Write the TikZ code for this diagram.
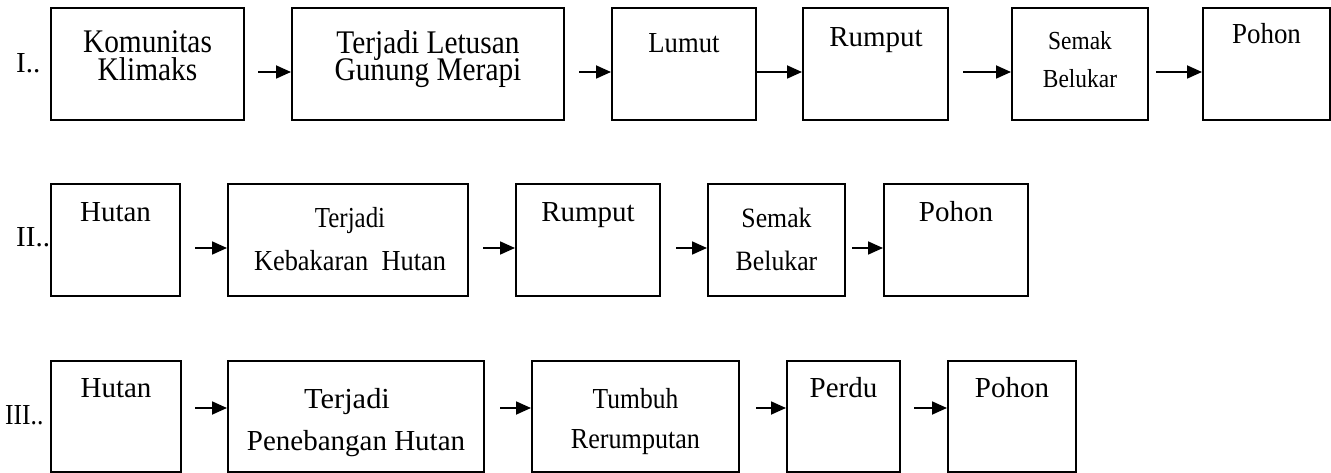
\documentclass[tikz,border=0pt]{standalone}
\usepackage{fontspec}
\setmainfont{Liberation Serif}
\usetikzlibrary{arrows.meta}
\newcommand{\sx}[2]{\scalebox{#1}[1]{#2}}
\newcommand{\tightls}{\lineskiplimit=-100pt\relax}
\tikzset{
  box/.style={draw,line width=2pt,inner sep=0pt,minimum height=112pt},
  txt/.style={anchor=base,inner sep=0pt,font=\fontsize{29}{34}\selectfont},
  twoA/.style={anchor=south,inner sep=0pt,align=center,
    font={\fontsize{33}{27.5}\selectfont\tightls}},
  twoB/.style={anchor=south,inner sep=0pt,align=center,
    font={\fontsize{33}{26.5}\selectfont\tightls}},
  small/.style={anchor=base,inner sep=0pt,font=\fontsize{26}{30}\selectfont},
  mid/.style={anchor=base,inner sep=0pt,font=\fontsize{28}{32}\selectfont},
  topline/.style={text depth=0pt},
  rowlab/.style={anchor=base west,inner sep=0pt,font=\fontsize{29}{34}\selectfont},
  arr/.style={line width=1.8pt,-{Triangle[length=15pt,width=13pt]}}
}
\begin{document}
\begin{tikzpicture}[x=1pt,y=-1pt]
\useasboundingbox (0,0) rectangle (1331,473);

% ---------- Row I ----------
\node[rowlab] (L1) at (16,73) {I..};
\node[box,minimum width=193pt] (b11) at (147.5,64) {};
\node[box,minimum width=272pt] (b12) at (428,64) {};
\node[box,minimum width=144pt] (b13) at (684,64) {};
\node[box,minimum width=145pt] (b14) at (875.5,64) {};
\node[box,minimum width=136pt] (b15) at (1080,64) {};
\node[box,minimum width=127pt] (b16) at (1266.5,64) {};

\node[twoA] (t11) at (147.5,81) {\sx{0.89}{Komunitas}\\\sx{0.89}{Klimaks}};
\node[twoB] (t12) at (428,87.7) {\sx{0.89}{Terjadi Letusan}\\\sx{0.89}{Gunung Merapi}};
\node[txt] (t13) at (684,53) {\sx{0.92}{Lumut}};
\node[txt] (t14) at (876,46.5) {Rumput};
\node[small,topline] (t15a) at (1080,50) {\sx{0.9}{Semak}};
\node[small] (t15b) at (1080,88) {\sx{0.9}{Belukar}};
\node[txt] (t16) at (1266.5,44) {\sx{0.93}{Pohon}};

\coordinate (a11) at (258,72);
\coordinate (a12) at (579,72);
\coordinate (a13) at (756,72);
\coordinate (a14) at (963,72);
\coordinate (a15) at (1156,72);
\draw[arr] (a11) -- (a11 -| b12.west);
\draw[arr] (a12) -- (a12 -| b13.west);
\draw[arr] (a13) -- (a13 -| b14.west);
\draw[arr] (a14) -- (a14 -| b15.west);
\draw[arr] (a15) -- (a15 -| b16.west);

% ---------- Row II ----------
\node[rowlab] (L2) at (16,247) {II..};
\node[box,minimum width=129pt] (b21) at (115.5,240) {};
\node[box,minimum width=240pt] (b22) at (348,240) {};
\node[box,minimum width=144pt] (b23) at (588,240) {};
\node[box,minimum width=137pt] (b24) at (776.5,240) {};
\node[box,minimum width=144pt] (b25) at (956,240) {};

\node[txt] (t21) at (115.5,222) {Hutan};
\node[txt,topline] (t22a) at (350,228) {\sx{0.86}{Terjadi}};
\node[txt] (t22b) at (350,270) {\sx{0.91}{Kebakaran\ \ Hutan}};
\node[txt] (t23) at (588,222) {Rumput};
\node[mid,topline] (t24a) at (776.5,228) {\sx{0.92}{Semak}};
\node[mid] (t24b) at (776.5,270) {\sx{0.92}{Belukar}};
\node[txt] (t25) at (956,222) {Pohon};

\coordinate (a21) at (195,248);
\coordinate (a22) at (483,248);
\coordinate (a23) at (676,248);
\coordinate (a24) at (852,248);
\draw[arr] (a21) -- (a21 -| b22.west);
\draw[arr] (a22) -- (a22 -| b23.west);
\draw[arr] (a23) -- (a23 -| b24.west);
\draw[arr] (a24) -- (a24 -| b25.west);

% ---------- Row III ----------
\node[rowlab] (L3) at (5,424) {\sx{0.88}{III..}};
\node[box,minimum width=130pt,minimum height=111pt] (b31) at (116,416.5) {};
\node[box,minimum width=256pt,minimum height=111pt] (b32) at (356,416.5) {};
\node[box,minimum width=207pt,minimum height=111pt] (b33) at (635.5,416.5) {};
\node[box,minimum width=113pt,minimum height=111pt] (b34) at (843.5,416.5) {};
\node[box,minimum width=128pt,minimum height=111pt] (b35) at (1012,416.5) {};

\node[txt] (t31) at (116,397) {Hutan};
\node[txt,topline] (t32a) at (347,408) {\sx{1.05}{Terjadi}};
\node[txt] (t32b) at (356,450) {Penebangan Hutan};
\node[txt,topline] (t33a) at (635.5,408) {\sx{0.88}{Tumbuh}};
\node[txt] (t33b) at (635.5,448) {\sx{0.9}{Rerumputan}};
\node[txt] (t34) at (843.5,397) {Perdu};
\node[txt] (t35) at (1012,397) {Pohon};

\coordinate (a31) at (195,408);
\coordinate (a32) at (500,408);
\coordinate (a33) at (756,408);
\coordinate (a34) at (914,408);
\draw[arr] (a31) -- (a31 -| b32.west);
\draw[arr] (a32) -- (a32 -| b33.west);
\draw[arr] (a33) -- (a33 -| b34.west);
\draw[arr] (a34) -- (a34 -| b35.west);
\end{tikzpicture}
\end{document}
